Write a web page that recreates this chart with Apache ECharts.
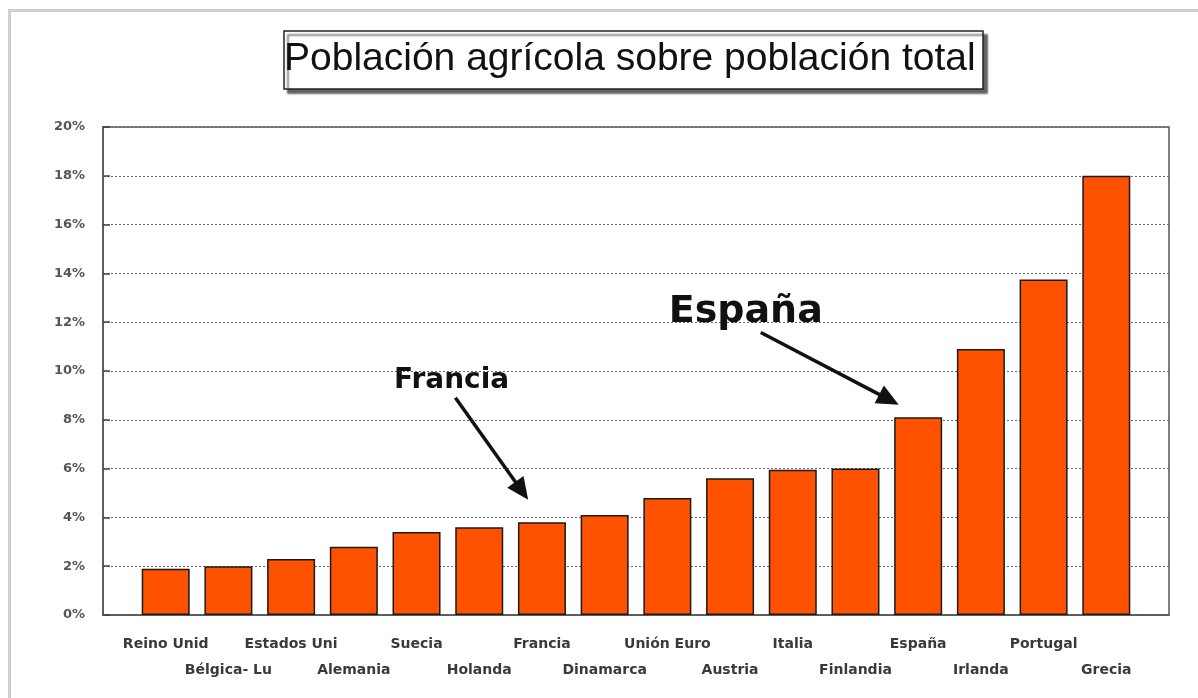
<!DOCTYPE html>
<html>
<head>
<meta charset="utf-8">
<script src="https://cdn.jsdelivr.net/npm/echarts@6/dist/echarts.min.js"></script>
<style>
  html, body { margin: 0; padding: 0; background: #fff; }
  #main { position: absolute; left: 0; top: 0; width: 1198px; height: 698px; }
  #frame { position: absolute; left: 8px; top: 9px; width: 1190px; height: 689px;
           border-top: 3px solid #cfcfcf; border-left: 3px solid #cfcfcf; pointer-events: none; }
</style>
</head>
<body>
<div id="main"></div>
<div id="frame"></div>
<script>
// paises, ordenados de menor a mayor
const countries = ['Reino Unid', 'Bélgica- Lu', 'Estados Uni', 'Alemania', 'Suecia', 'Holanda',
    'Francia', 'Dinamarca', 'Unión Euro', 'Austria', 'Italia', 'Finlandia',
    'España', 'Irlanda', 'Portugal', 'Grecia']
// % población agrícola
const values = [1.9, 2.0, 2.3, 2.8, 3.4, 3.6, 3.8, 4.1, 4.8, 5.6, 5.95, 6.0, 8.1, 10.9, 13.75, 18.0]
const yTicks = [0, 2, 4, 6, 8, 10, 12, 14, 16, 18, 20]
const notes = ['Francia', 'España']

// huecos a los lados, como en el gráfico de Excel
const cats = [''].concat(countries, [''])
const data = [null].concat(values, [null])

const chart = echarts.init(document.getElementById('main'))

const option = {
    animation: false,
    title: {
        text: 'Población agrícola sobre población total',
        left: 284,
        top: 31,
        padding: [9, 8, 10, 0],
        borderColor: '#222',
        borderWidth: 1.5,
        backgroundColor: '#fff',
        shadowColor: 'rgba(0,0,0,0.6)',
        shadowOffsetX: 4,
        shadowOffsetY: 4,
        shadowBlur: 2,
        textStyle: {
            fontFamily: 'Liberation Sans',
            fontSize: 39,
            fontWeight: 'normal',
            color: '#111'
        }
    },
    grid: {
        left: 103,
        right: 29,
        top: 127,
        bottom: 83,
        show: true,
        borderColor: '#555',
        borderWidth: 1.5
    },
    xAxis: {
        type: 'category',
        data: cats,
        boundaryGap: false,
        axisLine: { lineStyle: { color: '#555', width: 1.5 } },
        axisTick: { show: false },
        axisLabel: {
            interval: 0,
            margin: 16,
            lineHeight: 26,
            fontFamily: 'DejaVu Sans',
            fontWeight: 'bold',
            fontSize: 14,
            color: '#3a3a3a',
            formatter: (v, i) => (i % 2 === 0 ? '\n' + v : v)
        }
    },
    yAxis: {
        type: 'value',
        min: yTicks[0],
        max: yTicks[yTicks.length - 1],
        interval: 2,
        axisLine: { show: true, lineStyle: { color: '#555', width: 1.5 } },
        axisTick: { show: true, inside: true, length: 7, lineStyle: { color: '#444', width: 1.5 } },
        splitLine: { show: true, lineStyle: { color: '#666', type: [2, 2], width: 1 } },
        axisLabel: {
            margin: 18,
            fontFamily: 'DejaVu Sans',
            fontWeight: 'bold',
            fontSize: 13,
            color: '#555',
            formatter: '{value}%'
        }
    },
    series: [
        {
            type: 'bar',
            data: data,
            barWidth: 48,
            itemStyle: {
                color: '#FF5200',
                borderColor: '#1a1a1a',
                borderWidth: 1.5
            }
        }
    ]
}
chart.setOption(option)

// posición en pixel para un índice de categoría fraccionario
function toPx (idx, val) {
    const i = Math.floor(idx)
    const a = chart.convertToPixel({ gridIndex: 0 }, [i, val])
    const b = chart.convertToPixel({ gridIndex: 0 }, [i + 1, val])
    return [a[0] + (b[0] - a[0]) * (idx - i), a[1]]
}

// flechas: [desplazamiento de la punta, valor punta, desp. cola, valor cola, desp. texto, valor texto, tamaño]
const arrowGeo = {
    'Francia': [-0.22, 4.72, -1.38, 8.9, -1.44, 9.6, 28],
    'España': [-0.31, 8.62, -2.51, 11.58, -2.75, 12.4, 38]
}
const graphics = []
notes.forEach(name => {
    const k = cats.indexOf(name)
    const g = arrowGeo[name]
    const tip = toPx(k + g[0], g[1])
    const tail = toPx(k + g[2], g[3])
    const lab = toPx(k + g[4], g[5])
    const dx = tip[0] - tail[0]
    const dy = tip[1] - tail[1]
    const len = Math.sqrt(dx * dx + dy * dy)
    const ux = dx / len
    const uy = dy / len
    const hl = 22
    const hw = 10
    const base = [tip[0] - ux * hl, tip[1] - uy * hl]
    graphics.push({
        type: 'line',
        shape: { x1: tail[0], y1: tail[1], x2: base[0] + ux * 2, y2: base[1] + uy * 2 },
        style: { stroke: '#111', lineWidth: 3.5 }
    })
    graphics.push({
        type: 'polygon',
        shape: {
            points: [
                tip,
                [base[0] - uy * hw, base[1] + ux * hw],
                [base[0] + uy * hw, base[1] - ux * hw]
            ]
        },
        style: { fill: '#111' }
    })
    graphics.push({
        type: 'text',
        x: lab[0],
        y: lab[1],
        style: {
            text: name,
            fill: '#111',
            font: 'bold ' + g[6] + 'px "DejaVu Sans"',
            align: 'center',
            verticalAlign: 'middle'
        }
    })
})
chart.setOption({ graphic: graphics })
</script>
</body>
</html>
